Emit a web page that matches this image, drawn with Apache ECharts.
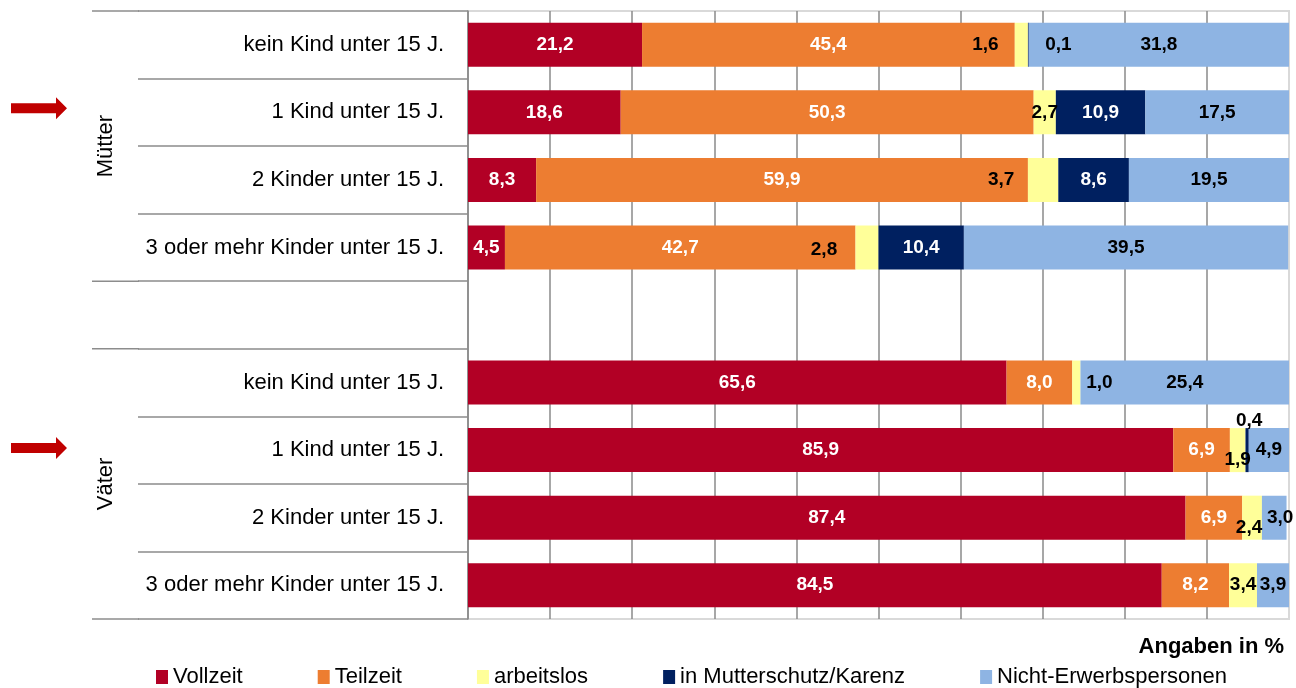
<!DOCTYPE html>
<html>
<head>
<meta charset="utf-8">
<title>Erwerbstätigkeit nach Kindern</title>
<script src="https://cdn.jsdelivr.net/npm/echarts@6/dist/echarts.min.js"></script>
<style>
html, body { margin: 0; padding: 0; background: #fff; }
#main { width: 1296px; height: 688px; }
</style>
</head>
<body>
<div id="main"></div>
<script>
// rows top to bottom, empty row separates the two groups
var categories = ['kein Kind unter 15 J.', '1 Kind unter 15 J.', '2 Kinder unter 15 J.', '3 oder mehr Kinder unter 15 J.', '',
                  'kein Kind unter 15 J.', '1 Kind unter 15 J.', '2 Kinder unter 15 J.', '3 oder mehr Kinder unter 15 J.'];
var groups = ['Mütter', 'Väter'];

var vollzeit   = [21.2, 18.6, 8.3, 4.5, null, 65.6, 85.9, 87.4, 84.5];
var teilzeit   = [45.4, 50.3, 59.9, 42.7, null, 8.0, 6.9, 6.9, 8.2];
var arbeitslos = [1.6, 2.7, 3.7, 2.8, null, 1.0, 1.9, 2.4, 3.4];
var karenz     = [0.1, 10.9, 8.6, 10.4, null, null, 0.4, null, null];
var nichtErw   = [31.8, 17.5, 19.5, 39.5, null, 25.4, 4.9, 3.0, 3.9];

var seriesNames = ['Vollzeit', 'Teilzeit', 'arbeitslos', 'in Mutterschutz/Karenz', 'Nicht-Erwerbspersonen'];
var colors = ['#B20025', '#ED7D31', '#FFFF99', '#002060', '#8EB4E3'];
var labelColors = ['#ffffff', '#ffffff', '#000000', '#ffffff', '#000000'];

// small labels were pushed aside by hand in the original (px)
var labelShift = {
  2: {0: [-36, 0], 2: [-42, 0], 3: [-43, 2], 5: [23, 0], 6: [0, 10], 7: [-3, 10]},
  3: {0: [30, 0], 6: [2, -29]},
  4: {7: [6, 0]}
};
// labels that sit outside their dark segment are black
var darkLabels = { 3: [0, 6] };

var FONT = '"Liberation Sans", Arial, sans-serif';

function fmt(v) {
  return v.toFixed(1).replace('.', ',');
}

var chartDom = document.getElementById('main');
var myChart = echarts.init(chartDom);

var values = [vollzeit, teilzeit, arbeitslos, karenz, nichtErw];
var series = [];
for (var s = 0; s < values.length; s++) {
  var shifts = labelShift[s] || {};
  var dark = darkLabels[s] || [];
  var data = values[s].map(function (v, i) {
    if (v === null) return '-';
    var item = { value: v };
    if (shifts[i]) item.label = { offset: shifts[i] };
    if (dark.indexOf(i) >= 0) {
      item.label = item.label || {};
      item.label.color = '#000000';
    }
    return item;
  });
  series.push({
    name: seriesNames[s],
    type: 'bar',
    stack: 'all',
    barWidth: 44,
    data: data,
    itemStyle: { color: colors[s] },
    label: {
      show: true,
      position: 'inside',
      color: labelColors[s],
      fontFamily: FONT,
      fontSize: 19,
      fontWeight: 'bold',
      formatter: function (p) { return fmt(p.value); }
    }
  });
}

var option = {
  animation: false,
  textStyle: { fontFamily: FONT },
  title: {
    text: 'Angaben in %',
    right: 12,
    top: 636,
    padding: 0,
    textStyle: { fontFamily: FONT, fontSize: 22, fontWeight: 'bold', color: '#000' }
  },
  legend: {
    data: seriesNames,
    left: 156,
    top: 666,
    padding: 0,
    icon: 'rect',
    itemWidth: 12,
    itemHeight: 14,
    itemGap: 75,
    textStyle: { fontFamily: FONT, fontSize: 22, color: '#000' }
  },
  grid: {
    left: 468, right: 7, top: 11, bottom: 69,
    show: true,
    borderColor: '#d9d9d9',
    borderWidth: 2
  },
  xAxis: {
    type: 'value',
    min: 0,
    max: 100,
    interval: 10,
    axisLabel: { show: false },
    axisTick: { show: false },
    axisLine: { show: false },
    splitLine: { show: true, showMaxLine: false, lineStyle: { color: '#8a8a8a', width: 1.5 } }
  },
  yAxis: {
    type: 'category',
    inverse: true,
    data: categories,
    axisLine: { show: true, lineStyle: { color: '#8c8c8c', width: 1.5 } },
    axisTick: { show: true, length: 330, interval: 0, lineStyle: { color: '#8c8c8c', width: 1.5 } },
    axisLabel: { interval: 0, margin: 24, fontFamily: FONT, fontSize: 22, color: '#000' }
  },
  series: series
};

option && myChart.setOption(option);

// group labels, long separators and the red arrows
var c0 = myChart.convertToPixel({ yAxisIndex: 0 }, 0);
var c8 = myChart.convertToPixel({ yAxisIndex: 0 }, 8);
var bw = (c8 - c0) / 8;
function edge(k) { return c0 - bw / 2 + k * bw; }

var graphics = [];
[0, 4, 5, 9].forEach(function (k) {
  graphics.push({
    type: 'line',
    shape: { x1: 92, y1: edge(k), x2: 139, y2: edge(k) },
    style: { stroke: '#8c8c8c', lineWidth: 1.5 }
  });
});
[[0, 4], [5, 9]].forEach(function (g, i) {
  graphics.push({
    type: 'text',
    x: 106,
    y: (edge(g[0]) + edge(g[1])) / 2,
    rotation: Math.PI / 2,
    style: {
      text: groups[i],
      font: '22px ' + FONT,
      fill: '#000',
      align: 'center',
      verticalAlign: 'middle'
    }
  });
});
[[1, -4], [6, -2]].forEach(function (a) {
  var y = myChart.convertToPixel({ yAxisIndex: 0 }, a[0]) + a[1];
  graphics.push({
    type: 'polygon',
    shape: { points: [[11, y - 5], [56, y - 5], [56, y - 11], [67, y], [56, y + 11], [56, y + 5], [11, y + 5]] },
    style: { fill: '#C00000' }
  });
});

myChart.setOption({ graphic: graphics });
</script>
</body>
</html>
